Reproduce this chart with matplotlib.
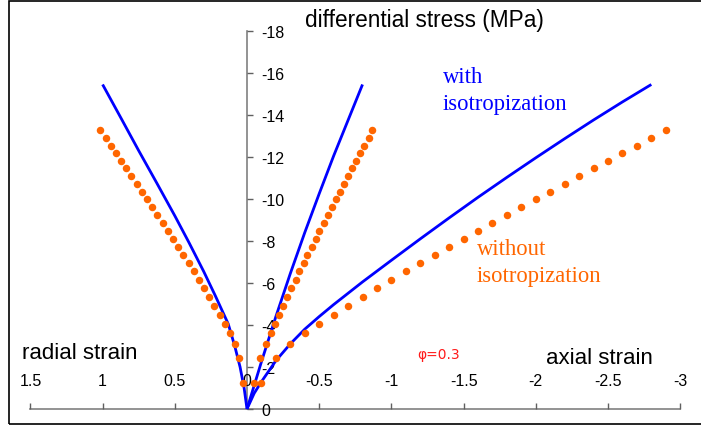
import matplotlib.pyplot as plt
from matplotlib.patches import Rectangle
from matplotlib.ticker import FuncFormatter

plt.rcParams['axes.unicode_minus'] = False
plt.rcParams['font.family'] = ['Liberation Sans', 'DejaVu Sans']

# without isotropization (orange dots), one point per axial step
stress_wo = [-1.24, -2.45, -3.08, -3.6, -4.05, -4.49, -4.92, -5.33, -5.75,
             -6.16, -6.56, -6.95, -7.35, -7.73, -8.1, -8.48, -8.86, -9.24, -9.62,
             -9.98, -10.35, -10.71, -11.08, -11.46, -11.82, -12.19, -12.54, -12.9, -13.29]
axial_wo = [-0.1, -0.2, -0.3, -0.4, -0.5, -0.6, -0.7, -0.8, -0.9,
            -1.0, -1.1, -1.2, -1.3, -1.4, -1.5, -1.6, -1.7, -1.8, -1.9,
            -2.0, -2.1, -2.2, -2.3, -2.4, -2.5, -2.6, -2.7, -2.8, -2.9]
radial_wo = [0.026, 0.055, 0.085, 0.118, 0.154, 0.189, 0.226, 0.261, 0.298,
             0.332, 0.369, 0.404, 0.441, 0.476, 0.512, 0.549, 0.584, 0.621, 0.656,
             0.693, 0.729, 0.764, 0.801, 0.836, 0.873, 0.907, 0.944, 0.979, 1.018]
vol_wo = [-0.048, -0.09, -0.13, -0.164, -0.192, -0.222, -0.248, -0.278, -0.304,
          -0.336, -0.362, -0.392, -0.418, -0.448, -0.476, -0.502, -0.532, -0.558, -0.588,
          -0.614, -0.642, -0.672, -0.698, -0.728, -0.754, -0.786, -0.812, -0.842, -0.864]

# with isotropization (blue lines)
axial_w = [0, -0.05, -0.1, -0.2, -0.3, -0.4, -0.5, -0.6, -0.8, -1.0, -1.2, -1.4,
           -1.6, -1.8, -2.0, -2.2, -2.4, -2.6, -2.8]
axial_w_s = [0, -0.75, -1.3, -2.3, -3.1, -3.8, -4.4, -4.97, -6.05, -7.08, -8.1, -9.1,
             -10.08, -11.03, -11.96, -12.87, -13.76, -14.62, -15.45]
radial_w = [0, 0.02, 0.048, 0.085, 0.13, 0.17, 0.22, 0.3, 0.4, 0.5, 0.625, 0.75, 0.875, 1.0]
radial_w_s = [0, -1.0, -2.0, -3.0, -4.05, -4.65, -5.4, -6.55, -7.9, -9.2, -10.76, -12.3,
              -13.88, -15.45]
vol_w = [0, -0.1, -0.2, -0.3, -0.4, -0.5, -0.6, -0.7, -0.8]
vol_w_s = [0, -2.25, -4.4, -6.45, -8.4, -10.25, -12.05, -13.75, -15.45]

xticks = [1.5, 1, 0.5, 0, -0.5, -1, -1.5, -2, -2.5, -3]
yticks = [0, -2, -4, -6, -8, -10, -12, -14, -16, -18]

W, H = 701, 427
BLUE = '#0000ff'
ORANGE = '#ff6600'


def px(x, y):
    return x / W, 1 - y / H


def main():
    fig = plt.figure(figsize=(7.01, 4.27), dpi=100)
    ax = fig.add_axes([0, 0, 1, 1])
    ax.set_xlim(1.7105, -3.144)
    ax.set_ylim(0.81, -19.52)

    for s, st in [(axial_w, axial_w_s), (radial_w, radial_w_s), (vol_w, vol_w_s)]:
        ax.plot(s, st, color=BLUE, lw=2.0, solid_capstyle='butt',
                solid_joinstyle='round', zorder=3)
    for s in [axial_wo, radial_wo, vol_wo]:
        ax.plot(s, stress_wo, 'o', color=ORANGE, ms=5.4, mew=0, zorder=4)

    ax.spines['left'].set_visible(False)
    ax.spines['bottom'].set_visible(False)
    ax.spines['right'].set_position(('data', 0))
    ax.spines['top'].set_position(('data', 0))
    ax.spines['right'].set_bounds(-18, 0)
    ax.spines['top'].set_bounds(-3, 1.5)
    for sp in ['right', 'top']:
        ax.spines[sp].set_color('#808080')
        ax.spines[sp].set_linewidth(1.2)
        ax.spines[sp].set_zorder(1)

    ax.yaxis.tick_right()
    ax.xaxis.tick_top()
    ax.set_xticks(xticks)
    ax.set_yticks(yticks)
    fmt = FuncFormatter(lambda v, p: '%g' % v)
    ax.xaxis.set_major_formatter(fmt)
    ax.yaxis.set_major_formatter(fmt)
    ax.tick_params(axis='y', direction='out', length=4, width=1, pad=6,
                   labelsize=11.5, color='#606060')
    ax.tick_params(axis='x', direction='out', length=4, width=1, pad=11,
                   labelsize=11.5, color='#606060')

    fig.text(*px(305, 27), 'differential stress (MPa)', fontsize=16.3, va='baseline')
    fig.text(*px(22, 359), 'radial strain', fontsize=16, va='baseline')
    fig.text(*px(546, 364), 'axial strain', fontsize=16, va='baseline')
    fig.text(*px(439, 355), '\u03c6=0.3', fontsize=10, color='#ff1a1a',
             ha='center', va='center', family=['DejaVu Sans'])
    fig.text(*px(443, 67), 'with\nisotropization', fontsize=16.3, color=BLUE,
             va='top', family=['Liberation Serif'], linespacing=1.35)
    fig.text(*px(477, 239), 'without\nisotropization', fontsize=16.3, color=ORANGE,
             va='top', family=['Liberation Serif'], linespacing=1.35)

    x0, y0 = px(9, 425)
    x1, y1 = px(703, 2)
    fig.add_artist(Rectangle((x0, y0), x1 - x0, y1 - y0, transform=fig.transFigure,
                             fill=False, edgecolor='black', lw=1.2))

    fig.savefig('out.png', dpi=100)


if __name__ == "__main__":
    main()
